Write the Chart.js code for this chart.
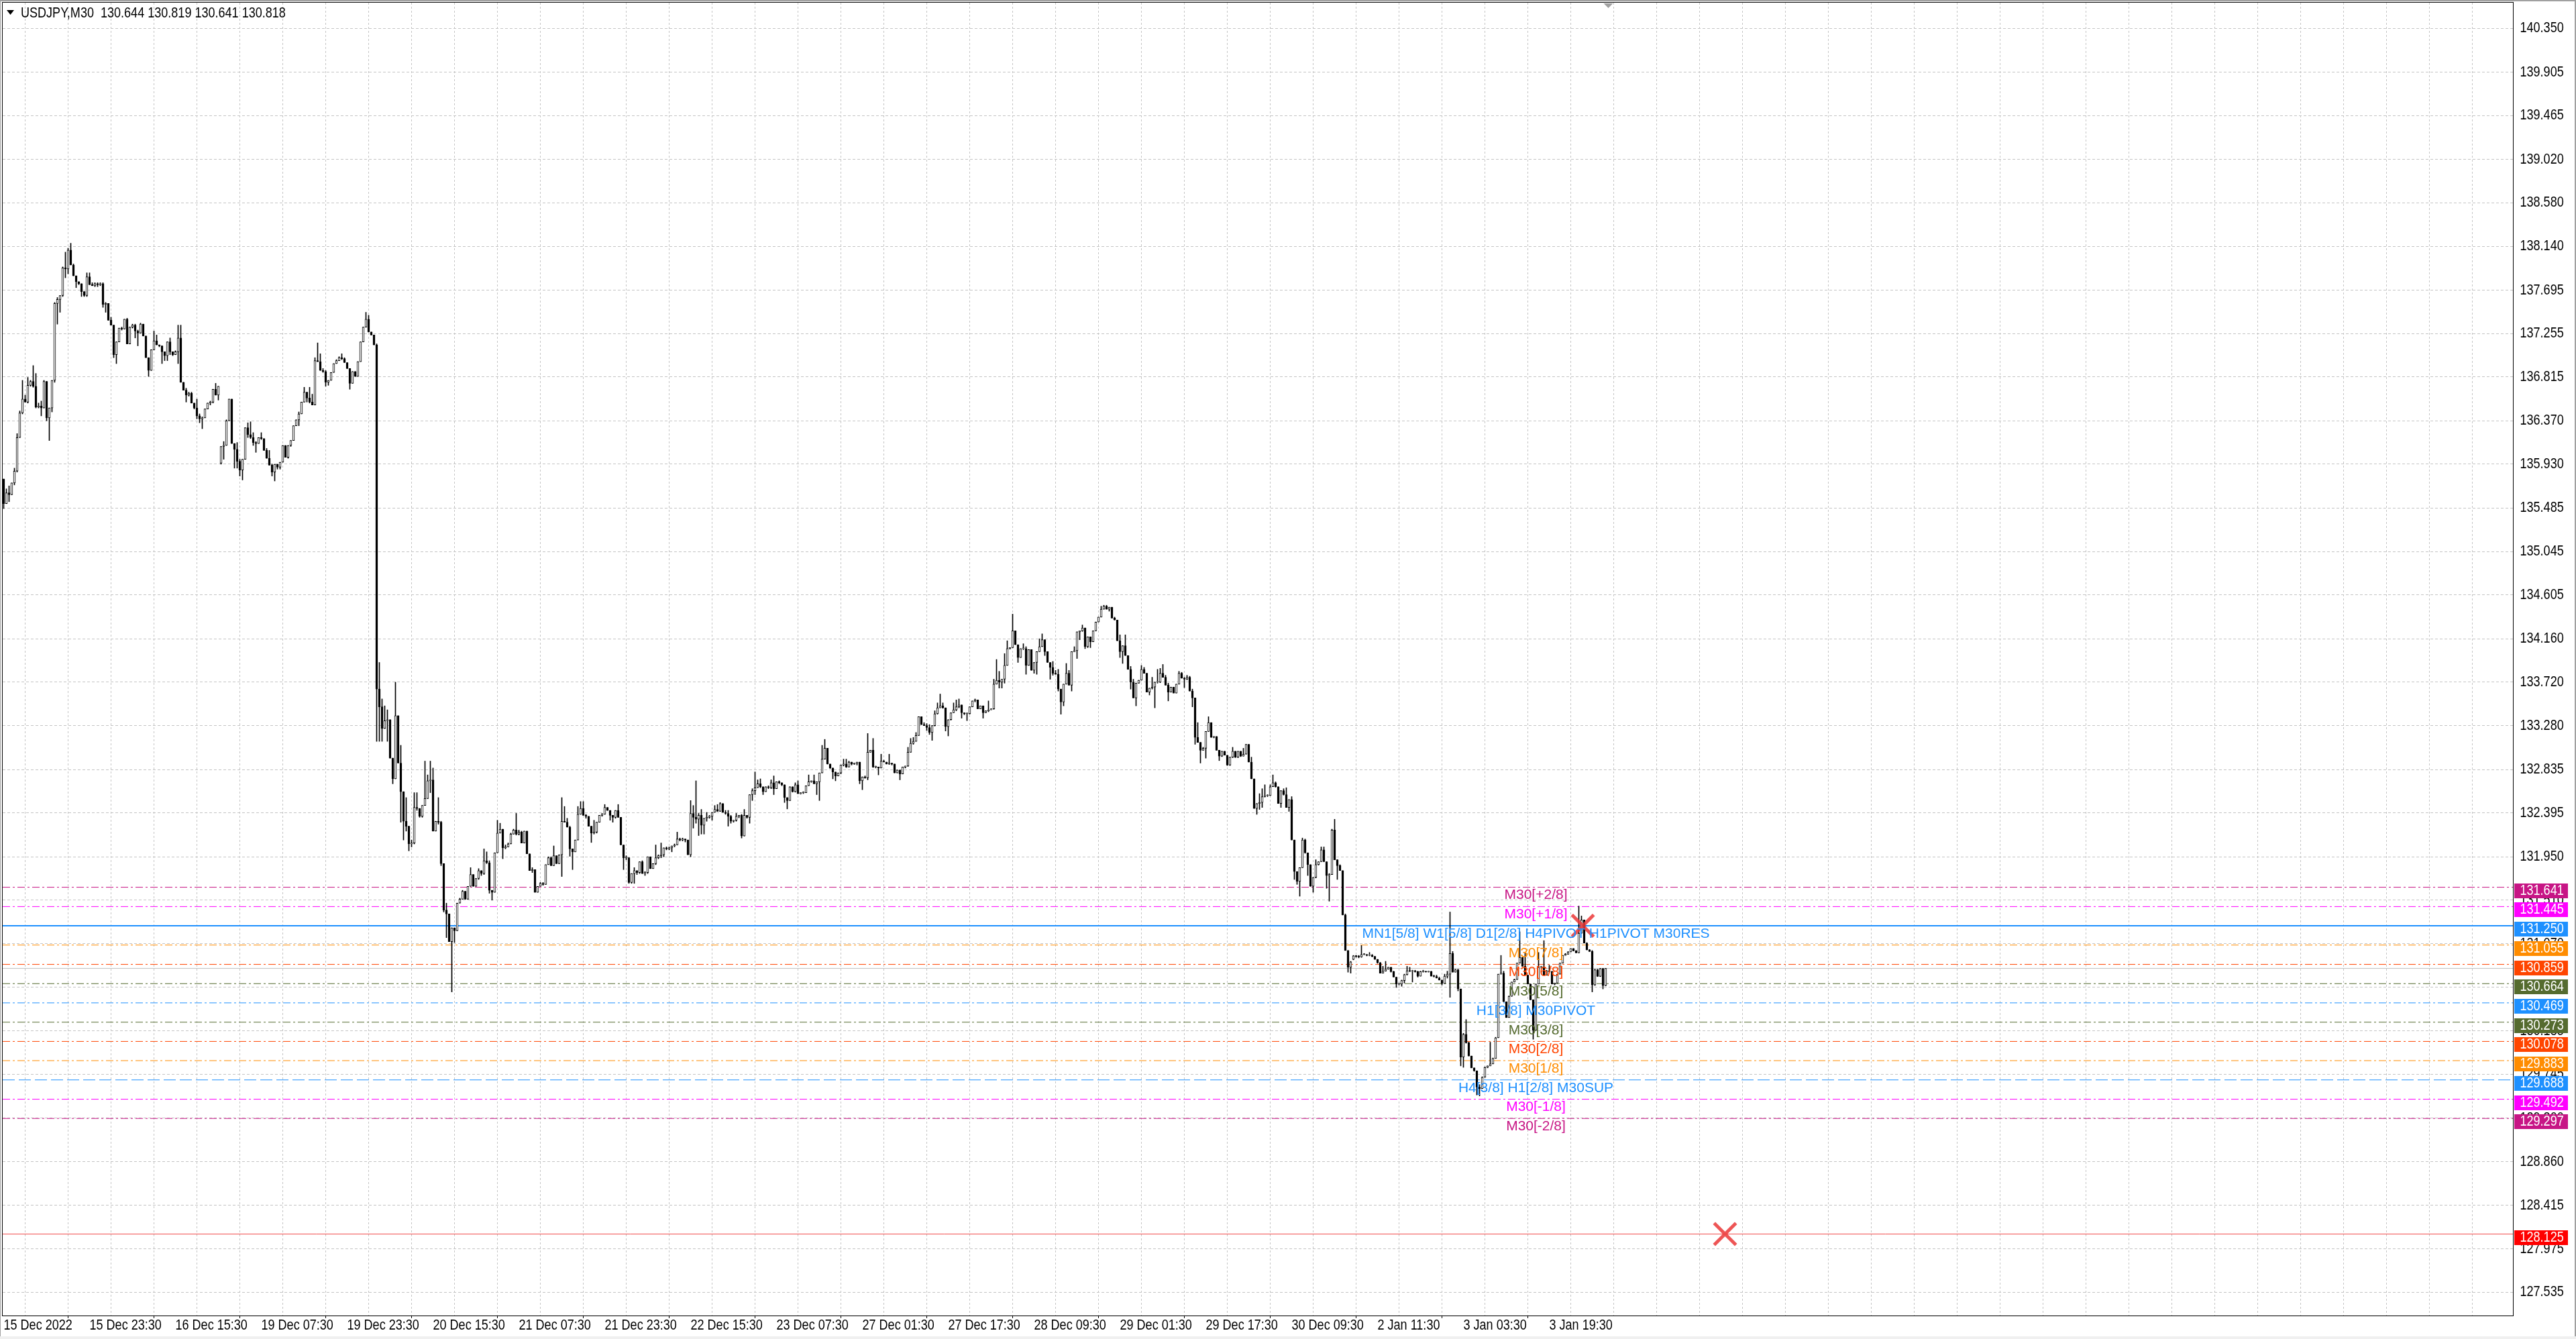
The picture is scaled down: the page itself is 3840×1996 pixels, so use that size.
<!DOCTYPE html>
<html><head><meta charset="utf-8">
<script src="https://cdn.jsdelivr.net/npm/chart.js@4.4.0/dist/chart.umd.min.js"></script>
<style>html,body{margin:0;padding:0;background:#fff;overflow:hidden}canvas{display:block}</style>
</head><body>
<canvas id="c" width="3840" height="1996"></canvas>
<script>
// ---------------- DATA ----------------
const symbolTitle = 'USDJPY,M30';
const headerOHLC = [130.644, 130.819, 130.641, 130.818];

const timeLabels = ['15 Dec 2022','15 Dec 23:30','16 Dec 15:30','19 Dec 07:30','19 Dec 23:30','20 Dec 15:30',
  '21 Dec 07:30','21 Dec 23:30','22 Dec 15:30','23 Dec 07:30','27 Dec 01:30','27 Dec 17:30','28 Dec 09:30',
  '29 Dec 01:30','29 Dec 17:30','30 Dec 09:30','2 Jan 11:30','3 Jan 03:30','3 Jan 19:30'];

const yTicks = [140.350,139.905,139.465,139.020,138.580,138.140,137.695,137.255,136.815,136.370,135.930,
  135.485,135.045,134.605,134.160,133.720,133.280,132.835,132.395,131.950,131.510,131.070,130.625,130.185,
  129.745,129.300,128.860,128.415,127.975,127.535];

const closes = [
135.53,135.64,135.62,135.74,135.86,136.20,136.45,136.59,136.56,136.73,
136.77,136.72,136.51,136.52,136.50,136.77,136.40,136.50,136.78,137.56,
137.60,137.64,137.92,137.91,138.10,137.95,137.84,137.78,137.76,137.68,
137.64,137.83,137.75,137.74,137.76,137.75,137.76,137.55,137.56,137.39,
137.34,137.04,137.17,137.31,137.30,137.40,137.15,137.32,137.34,137.28,
137.26,137.35,137.23,137.01,136.88,137.09,137.18,137.14,137.13,137.07,
137.03,137.17,137.07,137.04,137.07,137.21,136.76,136.68,136.63,136.65,
136.55,136.50,136.42,136.39,136.40,136.49,136.55,136.56,136.69,136.63,
136.72,136.11,136.12,136.37,136.59,136.14,136.08,135.96,135.87,135.98,
136.30,136.23,136.20,136.15,136.14,136.20,136.19,136.07,135.99,135.92,
135.85,135.93,135.90,135.95,136.12,136.00,136.12,136.17,136.32,136.38,
136.44,136.56,136.66,136.60,136.56,136.53,136.98,136.97,136.88,136.87,
136.76,136.78,136.86,136.95,136.98,137.01,137.00,136.96,136.90,136.75,
136.87,136.82,136.97,137.17,137.32,137.40,137.27,137.24,137.14,133.65,
133.47,133.25,133.33,133.34,132.95,132.74,133.38,132.90,132.61,132.31,
132.26,132.08,132.09,132.45,132.44,132.36,132.47,132.54,132.72,132.73,
132.21,132.31,132.30,131.88,131.41,131.37,131.09,131.23,131.20,131.48,
131.52,131.60,131.52,131.65,131.77,131.65,131.73,131.81,131.78,131.91,
131.89,131.61,131.59,131.99,132.19,132.23,132.04,132.05,132.08,132.18,
132.22,132.18,132.20,132.09,132.21,131.98,131.81,131.82,131.59,131.65,
131.68,131.67,131.87,131.94,131.86,131.96,131.88,131.97,132.31,132.30,
132.25,132.03,132.00,132.12,132.38,132.44,132.37,132.36,132.26,132.19,
132.20,132.30,132.37,132.38,132.45,132.42,132.37,132.35,132.42,132.35,
132.07,131.94,131.94,131.69,131.78,131.81,131.79,131.90,131.78,131.79,
131.95,131.83,131.88,131.94,131.96,131.97,132.04,132.03,132.04,132.06,
132.07,132.13,132.12,132.13,132.12,131.97,132.39,132.35,132.33,132.37,
132.27,132.34,132.35,132.36,132.40,132.43,132.41,132.49,132.40,132.39,
132.36,132.31,132.32,132.36,132.37,132.16,132.37,132.35,132.58,132.62,
132.65,132.69,132.66,132.61,132.66,132.65,132.70,132.64,132.71,132.70,
132.68,132.55,132.52,132.66,132.61,132.68,132.59,132.60,132.60,132.67,
132.71,132.72,132.69,132.71,132.80,132.94,133.05,132.89,132.85,132.81,
132.77,132.80,132.88,132.89,132.86,132.91,132.89,132.90,132.91,132.72,
132.76,132.75,133.01,133.03,132.86,132.86,132.85,132.92,132.91,132.89,
132.90,132.89,132.80,132.83,132.79,132.86,132.87,133.01,133.10,133.12,
133.18,133.37,133.29,133.28,133.26,133.21,133.28,133.40,133.46,133.48,
133.46,133.27,133.34,133.41,133.44,133.47,133.49,133.41,133.40,133.40,
133.47,133.53,133.54,133.45,133.48,133.41,133.43,133.44,133.45,133.70,
133.74,133.72,133.75,133.89,134.06,134.07,134.24,134.10,133.97,134.06,
134.06,133.89,134.05,133.84,133.92,134.03,134.08,134.15,134.03,133.92,
133.87,133.81,133.80,133.65,133.52,133.70,133.81,133.69,134.03,134.04,
134.23,134.24,134.27,134.08,134.18,134.13,134.24,134.33,134.38,134.46,
134.49,134.46,134.48,134.37,134.35,134.14,134.03,134.09,133.99,133.85,
133.72,133.56,133.71,133.74,133.85,133.81,133.62,133.66,133.67,133.72,
133.72,133.81,133.77,133.69,133.62,133.67,133.61,133.70,133.81,133.76,
133.75,133.77,133.63,133.56,133.16,133.11,133.03,133.05,133.22,133.31,
133.16,133.17,133.03,132.97,133.02,132.98,132.88,132.96,133.02,132.96,
133.02,132.97,132.99,133.09,132.91,132.74,132.44,132.49,132.50,132.56,
132.57,132.57,132.66,132.70,132.66,132.49,132.62,132.58,132.45,132.53,
132.12,131.80,131.70,131.84,132.12,131.99,131.87,131.65,131.74,131.87,
131.90,132.02,131.90,131.76,131.77,132.22,131.92,131.86,131.81,131.36,
131.00,130.83,130.885,130.945,130.94,130.935,130.96,130.96,130.95,130.952,
130.94,130.91,130.875,130.77,130.79,130.81,130.83,130.785,130.73,130.66,
130.66,130.695,130.755,130.795,130.79,130.792,130.785,130.74,130.785,130.787,
130.783,130.786,130.74,130.737,130.72,130.70,130.665,130.74,130.76,130.97,
130.78,130.805,130.61,129.92,130.15,130.065,129.93,129.81,129.78,129.615,
129.60,129.715,129.815,129.83,129.85,129.905,130.115,130.76,130.77,130.48,
130.32,130.535,130.68,130.705,130.872,130.93,130.84,130.75,130.66,130.50,
130.19,130.66,130.83,130.835,130.75,130.795,130.785,130.66,130.67,130.76,
130.872,130.95,130.962,130.985,131.02,130.996,130.975,131.175,131.31,131.075,
131.007,130.99,130.65,130.805,130.738,130.816,130.644,130.818];

const highs = [
135.78,135.68,135.71,135.74,135.89,136.24,136.47,136.78,136.63,136.81,
136.78,136.93,136.85,136.55,136.57,136.78,136.77,136.50,136.78,137.57,
137.62,137.64,137.93,138.08,138.12,138.17,137.96,137.84,137.78,137.76,
137.68,137.87,137.87,137.77,137.77,137.77,137.77,137.77,137.57,137.56,
137.42,137.34,137.17,137.31,137.32,137.40,137.41,137.32,137.35,137.35,
137.29,137.36,137.35,137.23,137.01,137.09,137.28,137.24,137.14,137.13,
137.07,137.17,137.21,137.07,137.08,137.34,137.34,136.76,136.70,136.66,
136.66,136.55,136.59,136.44,136.41,136.49,136.55,136.57,136.69,136.75,
136.72,136.11,136.16,136.38,136.59,136.59,136.14,136.15,135.98,135.98,
136.30,136.35,136.36,136.25,136.16,136.20,136.25,136.19,136.09,136.07,
135.93,135.93,135.93,135.95,136.12,136.12,136.12,136.17,136.32,136.38,
136.46,136.56,136.71,136.66,136.71,136.64,137.01,137.16,137.05,136.90,
136.88,136.78,136.86,136.95,136.99,137.02,137.05,137.01,136.96,136.90,
136.87,136.87,136.97,137.17,137.32,137.47,137.44,137.27,137.24,137.15,
133.92,133.55,133.48,133.44,133.34,132.95,133.72,133.38,133.08,132.61,
132.55,132.26,132.12,132.60,132.60,132.44,132.47,132.92,132.78,132.92,
132.85,132.31,132.55,132.31,131.88,131.48,131.36,131.23,131.23,131.48,
131.53,131.61,131.60,131.65,131.84,131.77,131.73,131.83,131.80,132.03,
132.00,131.91,131.61,131.99,132.32,132.29,132.23,132.07,132.09,132.19,
132.23,132.39,132.22,132.21,132.21,132.21,131.98,131.84,131.82,131.65,
131.69,131.69,131.87,131.95,131.95,132.06,131.96,131.97,132.55,132.46,
132.34,132.26,132.03,132.12,132.46,132.51,132.51,132.38,132.34,132.26,
132.32,132.30,132.37,132.39,132.48,132.45,132.42,132.37,132.42,132.48,
132.35,132.07,131.96,131.92,131.78,131.84,131.81,131.90,131.91,131.80,
131.95,131.95,131.88,132.07,131.97,132.09,132.04,132.05,132.05,132.06,
132.08,132.20,132.14,132.14,132.13,132.11,132.52,132.47,132.72,132.39,
132.43,132.34,132.40,132.37,132.40,132.47,132.48,132.50,132.49,132.42,
132.42,132.37,132.32,132.39,132.37,132.38,132.43,132.37,132.58,132.64,
132.81,132.73,132.74,132.66,132.66,132.67,132.73,132.77,132.71,132.72,
132.70,132.68,132.55,132.66,132.66,132.70,132.72,132.60,132.61,132.67,
132.78,132.72,132.78,132.71,132.80,133.08,133.14,133.05,132.89,132.85,
132.81,132.80,132.88,132.94,132.94,132.92,132.90,132.90,132.91,132.91,
132.76,132.77,133.20,133.03,133.15,132.87,132.86,132.99,132.93,132.91,
132.99,132.90,132.89,132.83,132.83,132.86,132.87,133.06,133.15,133.16,
133.21,133.37,133.37,133.31,133.30,133.29,133.28,133.43,133.51,133.60,
133.51,133.46,133.34,133.41,133.51,133.54,133.55,133.49,133.41,133.41,
133.47,133.53,133.55,133.54,133.48,133.48,133.43,133.53,133.45,133.75,
133.95,133.83,133.75,134.01,134.14,134.07,134.41,134.24,134.10,134.06,
134.11,134.08,134.05,134.05,133.92,134.03,134.16,134.21,134.15,134.03,
133.92,133.93,133.84,133.85,133.65,133.70,133.91,133.84,134.03,134.08,
134.23,134.24,134.30,134.27,134.18,134.18,134.24,134.33,134.38,134.49,
134.50,134.50,134.48,134.43,134.38,134.35,134.20,134.09,134.20,133.99,
133.88,133.75,133.71,133.74,133.89,133.87,133.81,133.66,133.77,133.72,
133.85,133.86,133.90,133.79,133.71,133.67,133.67,133.70,133.83,133.82,
133.77,133.79,133.78,133.65,133.56,133.31,133.11,133.06,133.22,133.37,
133.31,133.17,133.17,133.03,133.02,133.02,132.98,132.96,133.06,133.02,
133.02,133.02,133.05,133.09,133.09,132.96,132.74,132.49,132.59,132.64,
132.68,132.58,132.68,132.78,132.71,132.66,132.62,132.64,132.65,132.53,
132.56,132.12,131.80,131.84,132.14,132.13,131.99,131.87,131.74,131.92,
131.90,132.05,132.05,131.90,131.78,132.23,132.33,131.92,131.87,131.81,
131.37,131.00,130.89,130.95,130.95,130.95,131.05,130.97,130.96,130.98,
130.96,130.94,130.91,130.88,130.84,130.89,130.83,130.83,130.79,130.73,
130.67,130.70,130.76,130.84,130.83,130.80,130.80,130.79,130.79,130.80,
130.79,130.79,130.79,130.75,130.75,130.73,130.68,130.76,130.79,131.39,
130.99,130.81,130.81,130.61,130.16,130.30,130.07,129.93,129.81,129.78,
129.64,129.72,129.82,129.83,130.07,129.91,130.12,130.76,130.95,130.79,
130.48,130.54,130.68,130.71,130.87,131.19,130.93,130.98,130.75,130.66,
130.50,130.66,130.98,130.84,131.10,130.80,130.85,130.79,130.67,130.76,
130.87,130.95,130.97,130.99,131.02,131.02,131.00,131.45,131.35,131.31,
131.08,131.01,131.00,130.81,130.81,130.82,130.82,130.819];

const lows = [
135.48,135.53,135.55,135.62,135.72,135.85,136.20,136.44,136.56,136.55,
136.72,136.71,136.50,136.50,136.42,136.50,136.37,136.17,136.46,136.76,
137.35,137.47,137.63,137.82,137.86,137.95,137.84,137.72,137.75,137.63,
137.63,137.63,137.75,137.74,137.73,137.73,137.74,137.52,137.47,137.39,
137.34,137.01,136.95,137.17,137.29,137.30,137.15,137.15,137.31,137.21,
137.13,137.26,137.23,137.01,136.82,136.88,137.09,137.14,137.12,136.95,
136.98,136.98,137.04,137.03,137.04,136.95,136.76,136.68,136.56,136.62,
136.55,136.49,136.39,136.35,136.29,136.40,136.49,136.53,136.55,136.63,
136.58,135.93,135.98,136.12,136.37,136.14,135.89,135.89,135.81,135.77,
135.98,136.20,136.19,136.12,136.05,136.14,136.18,136.07,135.99,135.92,
135.81,135.76,135.88,135.88,135.95,136.00,135.99,136.11,136.17,136.32,
136.32,136.44,136.56,136.56,136.55,136.53,136.53,136.97,136.88,136.86,
136.72,136.73,136.78,136.86,136.95,136.98,136.99,136.96,136.90,136.69,
136.75,136.82,136.82,136.97,137.17,137.32,137.27,137.24,137.14,133.12,
133.12,133.12,133.25,133.12,132.95,132.69,132.74,132.90,132.30,132.12,
132.21,132.01,132.05,132.08,132.42,132.35,132.35,132.47,132.54,132.60,
132.21,132.21,132.28,131.86,131.39,131.13,131.09,130.58,131.08,131.20,
131.48,131.52,131.52,131.52,131.65,131.65,131.65,131.72,131.76,131.77,
131.88,131.58,131.51,131.59,131.99,132.19,131.93,132.03,132.05,132.08,
132.18,132.17,132.17,132.09,132.09,131.98,131.81,131.79,131.59,131.59,
131.65,131.66,131.67,131.87,131.86,131.86,131.88,131.88,131.75,132.30,
132.25,131.955,131.82,132.00,132.12,132.38,132.37,132.34,132.26,132.095,
132.18,132.19,132.30,132.36,132.38,132.42,132.32,132.30,132.34,132.35,
132.07,131.82,131.92,131.68,131.68,131.68,131.77,131.78,131.78,131.76,
131.78,131.83,131.83,131.87,131.93,131.94,131.95,132.02,132.02,132.00,
132.05,132.07,132.11,132.11,132.10,131.97,131.95,132.24,132.29,132.165,
132.18,132.18,132.31,132.34,132.32,132.40,132.41,132.41,132.40,132.38,
132.26,132.29,132.30,132.31,132.345,132.14,132.16,132.34,132.29,132.52,
132.58,132.65,132.65,132.58,132.61,132.64,132.64,132.58,132.64,132.69,
132.67,132.50,132.435,132.52,132.605,132.605,132.59,132.585,132.59,132.60,
132.67,132.705,132.69,132.58,132.52,132.80,132.94,132.89,132.845,132.74,
132.72,132.77,132.79,132.87,132.855,132.89,132.88,132.885,132.88,132.69,
132.63,132.745,132.73,133.01,132.855,132.85,132.78,132.855,132.91,132.89,
132.885,132.88,132.80,132.80,132.73,132.79,132.85,132.865,133.01,133.09,
133.12,133.18,133.29,133.28,133.23,133.19,133.13,133.275,133.395,133.46,
133.455,133.225,133.175,133.335,133.41,133.43,133.46,133.355,133.39,133.33,
133.395,133.47,133.52,133.45,133.45,133.355,133.41,133.42,133.44,133.445,
133.70,133.66,133.66,133.71,133.89,134.055,134.07,134.10,133.92,133.97,
134.05,133.80,133.89,133.84,133.81,133.80,134.03,134.08,133.99,133.92,
133.75,133.79,133.80,133.63,133.395,133.48,133.70,133.69,133.63,134.03,
133.96,134.15,134.235,134.06,134.07,134.07,134.13,134.24,134.33,134.38,
134.46,134.46,134.44,134.37,134.35,134.14,133.97,133.91,133.99,133.85,
133.65,133.56,133.48,133.71,133.74,133.81,133.62,133.59,133.65,133.46,
133.71,133.715,133.77,133.69,133.53,133.62,133.61,133.61,133.70,133.76,
133.665,133.745,133.63,133.47,133.09,133.11,132.90,133.03,132.95,133.22,
133.16,133.155,133.03,132.925,132.965,132.98,132.875,132.875,132.955,132.955,
132.955,132.965,132.97,132.99,132.91,132.74,132.44,132.38,132.43,132.45,
132.555,132.56,132.57,132.66,132.655,132.49,132.45,132.575,132.45,132.41,
132.12,131.72,131.67,131.55,131.84,131.985,131.76,131.65,131.59,131.735,
131.865,131.90,131.90,131.63,131.50,131.77,131.92,131.72,131.81,131.36,
131.00,130.78,130.77,130.905,130.93,130.925,130.93,130.955,130.945,130.945,
130.935,130.91,130.87,130.77,130.77,130.79,130.81,130.78,130.73,130.625,
130.65,130.637,130.67,130.75,130.785,130.68,130.78,130.73,130.74,130.78,
130.78,130.78,130.74,130.73,130.72,130.70,130.65,130.665,130.72,130.525,
130.78,130.78,130.59,129.83,129.815,130.06,129.93,129.81,129.775,129.535,
129.525,129.60,129.715,129.81,129.83,129.85,129.905,130.115,130.76,130.48,
130.32,130.32,130.535,130.68,130.705,130.872,130.84,130.75,130.66,130.50,
130.10,130.19,130.66,130.825,130.75,130.75,130.78,130.66,130.65,130.67,
130.76,130.872,130.95,130.96,130.985,130.995,130.975,130.975,131.175,131.075,
131.005,130.99,130.58,130.645,130.735,130.735,130.61,130.641];

// opens that do not equal the previous close (session gaps)
const gapOpens = {0: 135.78, 81: 135.94, 503: 130.91};

const levelValues = [131.641,131.445,131.250,131.055,130.859,130.664,130.469,130.273,130.078,129.883,129.688,129.492,129.297];
const levelNames = ['M30[+2/8]','M30[+1/8]','MN1[5/8] W1[5/8] D1[2/8] H4PIVOT H1PIVOT M30RES','M30[7/8]','M30[6/8]',
  'M30[5/8]','H1[3/8] M30PIVOT','M30[3/8]','M30[2/8]','M30[1/8]','H4[3/8] H1[2/8] M30SUP','M30[-1/8]','M30[-2/8]'];
const stopLevel = 128.125;
const markerBars = [588.5, 641.5];
const markerPrices = [131.25, 128.125];
const levelLabelBar = 571;

// ---------------- STYLE ----------------
const levelColors = ['#C71585','#FF00FF','#1E90FF','#FF8C00','#FF4500','#556B2F','#1E90FF','#556B2F','#FF4500','#FF8C00','#1E90FF','#FF00FF','#C71585'];
const levelDash = [[11,4,3,4],[11,4,3,4],[],[11,4,3,4],[11,4,3,4],[11,4,3,4],[11,4,3,4],[11,4,3,4],[11,4,3,4],[11,4,3,4],[18,6],[11,4,3,4],[11,4,3,4]];
const levelWidth = [1,1,2,1,1,1,1,1,1,1,1,1,1];
const SANS = '"Liberation Sans",Arial,sans-serif';
const AXIS_FONT = '22px "Liberation Sans",Arial,sans-serif';
const NARROW_X = 0.82;
const X_MIN = -0.375, X_MAX = 935.125;
const Y_MIN = 127.299, Y_MAX = 140.609;

// ---------------- BUILD ----------------
const opens = closes.map((c, i) => gapOpens[i] !== undefined ? gapOpens[i] : closes[i - 1]);
const bodyData = closes.map((c, i) => ({x: i, y: [opens[i], c]}));
const wickData = closes.map((c, i) => ({x: i, y: [Math.min(lows[i], opens[i], c), Math.max(highs[i], opens[i], c)]}));
const bodyFill = closes.map((c, i) => c >= opens[i] ? '#ffffff' : '#000000');

const datasets = [];
levelValues.forEach((v, k) => {
  datasets.push({type: 'line', data: [{x: X_MIN, y: v}, {x: X_MAX, y: v}], borderColor: levelColors[k],
    borderWidth: levelWidth[k], borderDash: levelDash[k], pointRadius: 0, order: 5});
});
datasets.push({type: 'line', data: [{x: X_MIN, y: closes[closes.length - 1]}, {x: X_MAX, y: closes[closes.length - 1]}],
  borderColor: '#c0c0c0', borderWidth: 1, pointRadius: 0, order: 6});
datasets.push({type: 'line', data: [{x: X_MIN, y: stopLevel}, {x: X_MAX, y: stopLevel}],
  borderColor: 'rgba(240,40,40,0.85)', borderWidth: 1, pointRadius: 0, order: 5});
datasets.push({type: 'bar', data: wickData, backgroundColor: '#000', borderWidth: 0, barThickness: 1,
  minBarLength: 1, grouped: false, order: 3});
datasets.push({type: 'bar', data: bodyData, backgroundColor: bodyFill, borderColor: '#000', borderWidth: 1,
  borderSkipped: false, barThickness: 3, minBarLength: 1, grouped: false, order: 2});
datasets.push({type: 'scatter', data: markerBars.map((b, k) => ({x: b, y: markerPrices[k]})),
  pointStyle: 'crossRot', pointRadius: 23, borderWidth: 5, borderColor: 'rgba(235,55,55,0.85)',
  backgroundColor: 'rgba(0,0,0,0)', order: 0});

function narrowText(ctx, text, x, y, align) {
  ctx.save();
  ctx.translate(x, y);
  ctx.scale(NARROW_X, 1);
  ctx.textAlign = align;
  ctx.textBaseline = 'middle';
  ctx.fillText(text, 0, 0);
  ctx.restore();
}

const mtPlugin = {
  id: 'mt',
  afterDatasetsDraw(chart) {
    const ctx = chart.ctx, xs = chart.scales.x, ys = chart.scales.y;
    ctx.save();
    ctx.font = '21px ' + SANS;
    ctx.textAlign = 'center';
    ctx.textBaseline = 'middle';
    const lx = xs.getPixelForValue(levelLabelBar);
    levelValues.forEach((v, k) => {
      ctx.fillStyle = levelColors[k];
      ctx.fillText(levelNames[k], lx, ys.getPixelForValue(v) + 12);
    });
    ctx.restore();
  },
  afterDraw(chart) {
    const ctx = chart.ctx, a = chart.chartArea, xs = chart.scales.x, ys = chart.scales.y;
    ctx.save();
    // frame
    ctx.strokeStyle = '#000'; ctx.lineWidth = 1;
    ctx.strokeRect(a.left - 0.5, a.top - 0.5, a.right - a.left + 1, a.bottom - a.top + 1);
    ctx.fillStyle = '#a0a0a0';
    ctx.fillRect(0, 0, 3840, 2); ctx.fillRect(0, 0, 1, 1996); ctx.fillRect(3838, 0, 2, 1996);
    ctx.fillStyle = '#f0f0f0'; ctx.fillRect(0, 1992, 3840, 4);
    // shift marker
    const sx = xs.getPixelForValue(closes.length);
    ctx.fillStyle = '#a0a0a0';
    ctx.beginPath(); ctx.moveTo(sx - 7, a.top + 1); ctx.lineTo(sx + 7, a.top + 1); ctx.lineTo(sx, a.top + 8); ctx.closePath(); ctx.fill();
    // header
    ctx.fillStyle = '#000';
    ctx.beginPath(); ctx.moveTo(10, 15); ctx.lineTo(21, 15); ctx.lineTo(15.5, 22); ctx.closePath(); ctx.fill();
    ctx.font = AXIS_FONT;
    narrowText(ctx, symbolTitle + '  ' + headerOHLC.map(v => v.toFixed(3)).join(' '), 31, 20, 'left');
    // y axis labels
    yTicks.forEach(v => narrowText(ctx, v.toFixed(3), a.right + 10.5, ys.getPixelForValue(v), 'left'));
    // x axis labels
    xs.ticks.forEach(t => {
      const k = t.value / 32;
      if (Number.isInteger(k) && k < timeLabels.length) narrowText(ctx, timeLabels[k], xs.getPixelForValue(t.value), a.bottom + 15, 'left');
    });
    // price boxes
    const boxes = levelValues.map((v, k) => [v, levelColors[k]]).concat([[stopLevel, '#FF0000']]);
    boxes.forEach(([v, col]) => {
      const py = ys.getPixelForValue(v);
      ctx.fillStyle = col;
      ctx.fillRect(a.right + 2, Math.round(py) - 6, 80, 22);
      ctx.fillStyle = '#fff';
      narrowText(ctx, v.toFixed(3), a.right + 10.5, py + 5, 'left');
    });
    ctx.restore();
  }
};

function zeroPad(s) { s.paddingLeft = 0; s.paddingRight = 0; s.paddingTop = 0; s.paddingBottom = 0; }

new Chart(document.getElementById('c'), {
  type: 'bar',
  data: {datasets},
  options: {
    responsive: false, animation: false, events: [],
    layout: {autoPadding: false, padding: {top: 4, left: 4, right: 0, bottom: 0}},
    plugins: {legend: {display: false}, tooltip: {enabled: false}},
    scales: {
      x: {
        type: 'linear', min: X_MIN, max: X_MAX, offset: false,
        afterBuildTicks: s => { const t = []; for (let v = 0; v <= 928; v += 16) t.push({value: v}); s.ticks = t; },
        afterFit: s => { s.height = 35; zeroPad(s); },
        ticks: {display: false},
        grid: {color: '#c4c4c4', lineWidth: 1, drawTicks: true, tickLength: 4, tickWidth: 1,
          tickColor: c => (c.tick && c.tick.value % 32 === 0 && c.tick.value / 32 < timeLabels.length) ? '#000' : 'rgba(0,0,0,0)'},
        border: {display: false, dash: [3, 3]}
      },
      y: {
        type: 'linear', position: 'right', min: Y_MIN, max: Y_MAX,
        afterBuildTicks: s => { s.ticks = yTicks.map(v => ({value: v})); },
        afterFit: s => { s.width = 94; zeroPad(s); },
        ticks: {display: false},
        grid: {color: '#c4c4c4', lineWidth: 1, drawTicks: false},
        border: {display: false, dash: [4, 3]}
      }
    }
  },
  plugins: [mtPlugin]
});
</script>
</body></html>
